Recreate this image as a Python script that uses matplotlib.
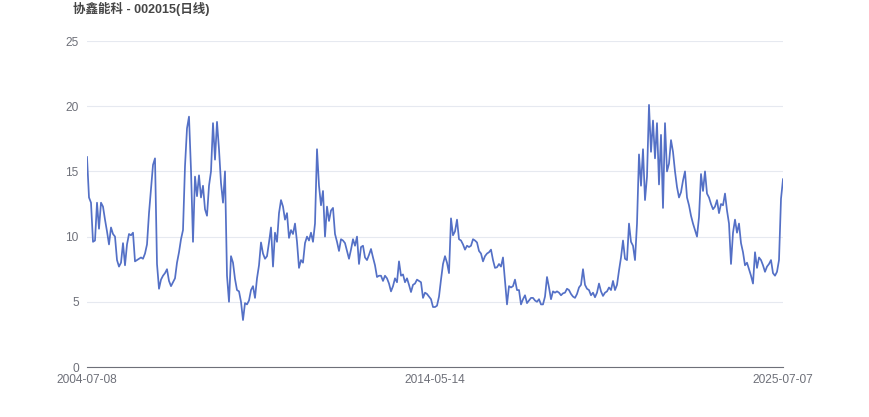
import numpy as np
import matplotlib as mpl
mpl.use('Agg')
import matplotlib.pyplot as plt

# 협신능과(002015) 일봉 종가 - 그림에서 읽은 값 (균일 간격 샘플)
title = '协鑫能科 - 002015(日线)'
first_date = '2004-07-08'
mid_date = '2014-05-14'
last_date = '2025-07-07'

prices = [
    16.1, 13.0, 12.6, 9.6, 9.7, 12.6, 10.6, 12.6, 12.3, 11.3,
    10.4, 9.4, 10.7, 10.2, 10.0, 8.2, 7.7, 8.0, 9.5, 7.8,
    9.4, 10.2, 10.1, 10.3, 8.1, 8.2, 8.3, 8.4, 8.3, 8.7,
    9.4, 11.8, 13.7, 15.5, 16.0, 7.9, 6.0, 6.7, 7.0, 7.2,
    7.5, 6.6, 6.2, 6.5, 6.8, 8.0, 8.8, 9.8, 10.5, 15.4,
    18.3, 19.2, 15.1, 9.6, 14.6, 13.1, 14.7, 13.0, 13.9, 12.1,
    11.6, 13.9, 15.0, 18.7, 15.9, 18.8, 16.7, 14.1, 12.6, 15.0,
    7.0, 5.0, 8.5, 8.0, 6.75, 5.9, 5.8, 5.0, 3.6, 4.9,
    4.8, 5.1, 5.9, 6.2, 5.3, 6.8, 7.8, 9.55, 8.7, 8.3,
    8.5, 9.55, 10.7, 7.7, 10.3, 9.6, 11.8, 12.8, 12.3, 11.3,
    11.8, 9.9, 10.5, 10.2, 11.0, 9.6, 7.6, 8.2, 8.0, 9.5,
    10.0, 9.7, 10.3, 9.6, 11.0, 16.7, 13.9, 12.4, 13.5, 10.0,
    12.3, 11.2, 12.0, 12.2, 10.2, 9.6, 8.9, 9.8, 9.7, 9.5,
    8.9, 8.3, 9.0, 9.8, 9.3, 10.0, 7.9, 9.2, 9.3, 8.4,
    8.2, 8.6, 9.05, 8.4, 7.8, 6.9, 7.0, 7.0, 6.6, 7.0,
    6.8, 6.4, 5.8, 6.2, 6.8, 6.5, 8.1, 7.0, 7.1, 6.5,
    6.8, 6.3, 5.75, 6.3, 6.4, 6.7, 6.6, 6.5, 5.3, 5.7,
    5.6, 5.4, 5.2, 4.6, 4.6, 4.7, 5.4, 6.7, 7.9, 8.5,
    8.0, 7.2, 11.4, 10.1, 10.4, 11.3, 9.8, 9.7, 9.4, 9.0,
    9.3, 9.2, 9.3, 9.8, 9.7, 9.55, 8.9, 8.7, 8.1, 8.5,
    8.7, 8.8, 9.0, 8.2, 7.6, 7.65, 7.9, 7.7, 8.4, 6.6,
    4.8, 6.2, 6.1, 6.2, 6.7, 5.9, 5.9, 4.8, 5.2, 5.5,
    4.9, 5.1, 5.3, 5.3, 5.1, 5.0, 5.2, 4.8, 4.8, 5.4,
    6.9, 6.1, 5.2, 5.8, 5.7, 5.8, 5.7, 5.5, 5.65, 5.7,
    6.0, 5.9, 5.6, 5.4, 5.3, 5.6, 6.1, 6.3, 7.5, 6.3,
    6.0, 5.9, 5.5, 5.7, 5.35, 5.7, 6.4, 5.8, 5.45, 5.7,
    5.8, 6.1, 5.9, 6.6, 5.9, 6.3, 7.4, 8.4, 9.7, 8.3,
    8.2, 11.0, 9.6, 9.3, 8.2, 11.0, 16.3, 13.9, 16.7, 12.8,
    14.6, 20.1, 16.5, 18.9, 16.0, 18.7, 14.0, 17.8, 12.2, 18.7,
    15.0, 15.6, 17.4, 16.5, 15.0, 13.8, 13.0, 13.4, 14.3, 15.0,
    13.0, 12.4, 11.6, 11.0, 10.5, 10.0, 11.5, 14.8, 13.5, 15.0,
    13.3, 13.0, 12.5, 12.1, 12.3, 12.8, 11.8, 12.5, 12.4, 13.3,
    12.0, 11.0, 7.9, 10.3, 11.3, 10.3, 11.0, 9.5, 8.8, 7.8,
    8.0, 7.5, 7.0, 6.4, 8.8, 7.6, 8.4, 8.2, 7.8, 7.3,
    7.7, 7.9, 8.2, 7.2, 7.0, 7.3, 8.2, 12.9, 14.4,
]

plt.rcParams['font.family'] = ['Liberation Sans', 'Noto Sans CJK SC', 'DejaVu Sans']

fig = plt.figure(figsize=(8.7, 4.17), dpi=100)
ax = fig.add_axes([87 / 870, 50 / 417, 696 / 870, 326 / 417])

x = np.arange(len(prices))
ax.plot(x, prices, color='#5470c6', linewidth=1.25)

ax.set_xlim(0, len(prices) - 1)
ax.set_ylim(0, 25)
ax.set_yticks([0, 5, 10, 15, 20, 25])
ax.set_xticks([0, len(prices) // 2, len(prices) - 1])
ax.set_xticklabels([first_date, mid_date, last_date])

# 격자선, 축 스타일 (echarts 기본 느낌)
ax.grid(axis='y', color='#e6e9f0', linewidth=0.8)
ax.set_axisbelow(True)
for side in ['top', 'right', 'left']:
    ax.spines[side].set_visible(False)
ax.spines['bottom'].set_color('#6e7079')
ax.spines['bottom'].set_linewidth(0.8)
ax.tick_params(axis='both', length=0, colors='#6e7079', labelsize=8.6)
ax.tick_params(axis='y', pad=6)
ax.tick_params(axis='x', pad=5)

fig.text(73 / 870, 1 - 9 / 417, title, fontsize=9.0, fontweight='bold',
         color='#464646', ha='left', va='center')

plt.savefig('out.png', dpi=100)
